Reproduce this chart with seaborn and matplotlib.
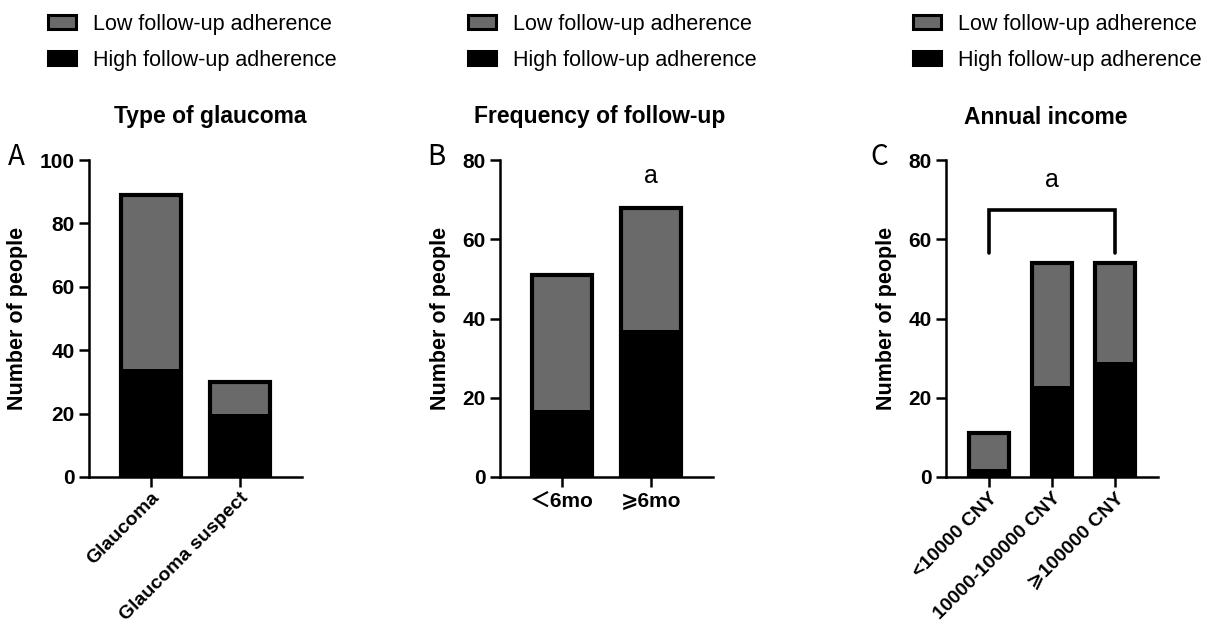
import numpy as np
import pandas as pd
import matplotlib.pyplot as plt
import seaborn as sns
from matplotlib.patches import Patch

sns.set_style('white')
plt.rcParams['font.family'] = ['Liberation Sans', 'DejaVu Sans', 'Noto Sans CJK SC']
plt.rcParams['text.color'] = 'black'
plt.rcParams['axes.labelcolor'] = 'black'
plt.rcParams['xtick.color'] = 'black'
plt.rcParams['ytick.color'] = 'black'

# panel A - type of glaucoma
cats_a = ['Glaucoma', 'Glaucoma suspect']
total_a = [89, 30]
high_a = [34, 20]

# panel B - frequency of follow-up
cats_b = ['＜6mo', '⩾6mo']
total_b = [51, 68]
high_b = [17, 37]

# panel C - annual income
cats_c = ['<10000 CNY', '10000-100000 CNY', '⩾100000 CNY']
total_c = [11, 54, 54]
high_c = [2, 23, 29]

titles = ['Type of glaucoma', 'Frequency of follow-up', 'Annual income']
letters = ['A', 'B', 'C']
gray = '#6a6a6a'

fig = plt.figure(figsize=(12.09, 6.3), dpi=100)
W, H = 1209, 630

def px_axes(left, right, top, bottom):
    return fig.add_axes([left / W, 1 - bottom / H, (right - left) / W, (bottom - top) / H])

ax_a = px_axes(89, 302, 160, 477)
ax_b = px_axes(500, 713, 160, 477)
ax_c = px_axes(946, 1158, 160, 477)

panels = [
    (ax_a, cats_a, total_a, high_a, 100, 0.68, 45),
    (ax_b, cats_b, total_b, high_b, 80, 0.67, 0),
    (ax_c, cats_c, total_c, high_c, 80, 0.64, 45),
]

for ax, cats, total, high, ymax, w, rot in panels:
    df = pd.DataFrame({'cat': cats, 'total': total, 'high': high})
    sns.barplot(data=df, x='cat', y='total', color=gray, edgecolor='black',
                linewidth=3, width=w, saturation=1, ax=ax)
    sns.barplot(data=df, x='cat', y='high', color='black', edgecolor='black',
                linewidth=0, width=w, saturation=1, ax=ax)
    n = len(cats)
    pad = 0.7 if n == 2 else 0.68
    ax.set_xlim(-pad, n - 1 + pad)
    ax.set_ylim(0, ymax)
    ax.set_yticks(np.arange(0, ymax + 1, 20))
    ax.set_xlabel('')
    ax.set_ylabel('Number of people', fontsize=15.5, fontweight='bold', labelpad=8)
    for s in ['top', 'right']:
        ax.spines[s].set_visible(False)
    for s in ['left', 'bottom']:
        ax.spines[s].set_linewidth(1.8)
        ax.spines[s].set_color('black')
    ax.tick_params(axis='both', which='major', direction='out', length=7, width=1.8,
                   color='black', labelsize=15, bottom=True, left=True)
    for lab in ax.get_yticklabels():
        lab.set_fontweight('bold')
    ax.set_xticks(range(n))
    if rot:
        ax.tick_params(axis='x', pad=2)
        ax.set_xticklabels(cats, rotation=45, ha='right', rotation_mode='anchor',
                           fontweight='bold', fontsize=14)
    else:
        ax.set_xticklabels(cats, fontweight='bold', fontsize=15)

# significance marks
ax_b.text(1, 76, 'a', ha='center', va='center', fontsize=18)
ax_c.plot([0, 0, 2, 2], [56.5, 67.5, 67.5, 56.5], color='black', lw=2.6,
          solid_joinstyle='miter', clip_on=False)
ax_c.text(1, 75, 'a', ha='center', va='center', fontsize=18)

# titles, letters, legends
title_x = [210, 600, 1046]
letter_x = [16, 436, 879]
legend_x = [39, 459, 904]
for i in range(3):
    fig.text(title_x[i] / W, 1 - 117 / H, titles[i], ha='center', va='center',
             fontsize=16.5, fontweight='bold')
    fig.text(letter_x[i] / W, 1 - 157 / H, letters[i], ha='center', va='center',
             fontsize=20, family=['Noto Sans CJK SC', 'DejaVu Sans'])
    handles = [Patch(facecolor=gray, edgecolor='black', linewidth=2.2),
               Patch(facecolor='black', edgecolor='black', linewidth=2.2)]
    fig.legend(handles, ['Low follow-up adherence', 'High follow-up adherence'],
               loc='upper left', bbox_to_anchor=(legend_x[i] / W, 1 - 5 / H),
               frameon=False, fontsize=15.5, handlelength=1.3, handleheight=0.65,
               handletextpad=0.8, labelspacing=0.7, borderaxespad=0)

fig.savefig('out.png', dpi=100)
